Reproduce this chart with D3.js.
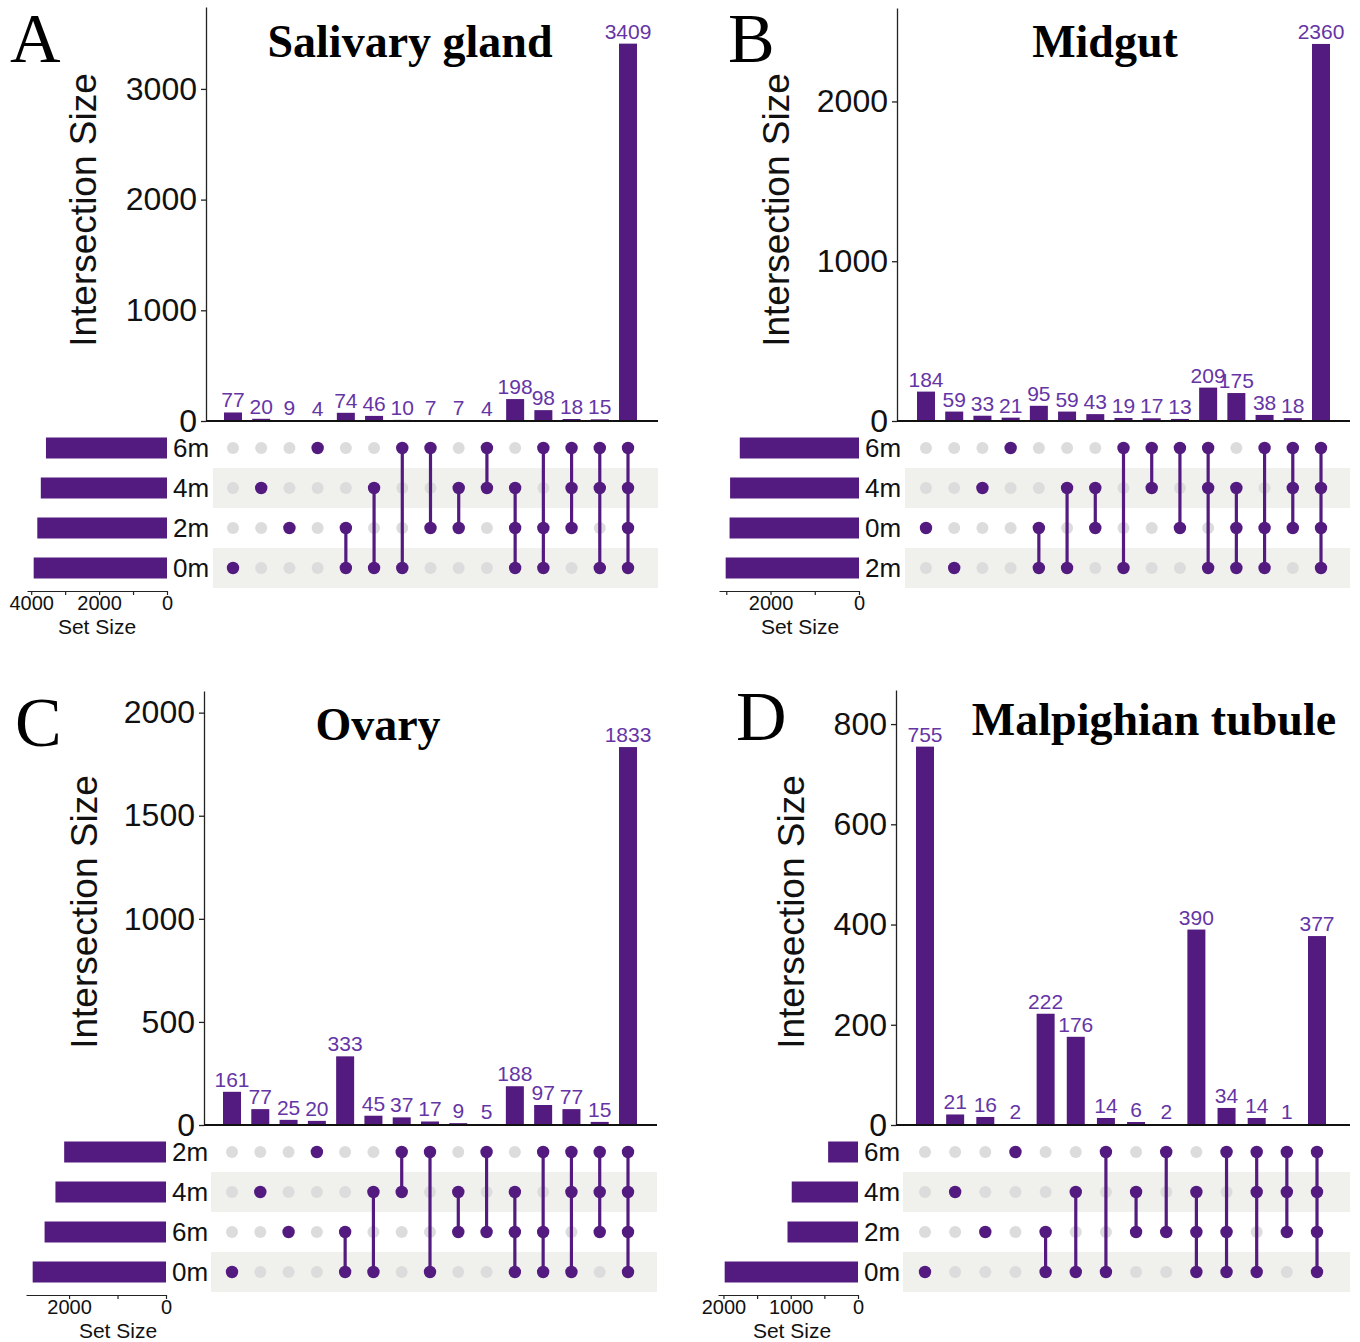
<html>
<script src='https://d3js.org/d3.v7.min.js'></script>
<style>
body {margin:0; background:white;}
text {font-family: 'Liberation Sans', Arial, sans-serif;}
.serif {font-family: 'Liberation Serif', 'Times New Roman', serif;}
</style>
<body onload='init()'>
<svg width=1360 height=1342></svg>
<script>
// A - Salivary gland
var setsA = ['6m','4m','2m','0m'];
var setSizeA = [3565, 3717, 3820, 3927];
var countsA = [77,20,9,4,74,46,10,7,7,4,198,98,18,15,3409];
var combosA = [['0m'],['4m'],['2m'],['6m'],['2m','0m'],['4m','0m'],['6m','0m'],['6m','2m'],['4m','2m'],['6m','4m'],
  ['4m','2m','0m'],['6m','2m','0m'],['6m','4m','2m'],['6m','4m','0m'],['6m','4m','2m','0m']];
var yTicksA = [0,1000,2000,3000];
var setTicksA = [0,1000,2000,3000,4000];
var setLabelsA = [0,2000,4000];

// B - Midgut
var setsB = ['6m','4m','0m','2m'];
var setSizeB = [2695, 2914, 2926, 3014];
var countsB = [184,59,33,21,95,59,43,19,17,13,209,175,38,18,2360];
var combosB = [['0m'],['2m'],['4m'],['6m'],['0m','2m'],['4m','2m'],['4m','0m'],['6m','2m'],['6m','4m'],['6m','0m'],
  ['6m','4m','2m'],['4m','0m','2m'],['6m','0m','2m'],['6m','4m','0m'],['6m','4m','0m','2m']];
var yTicksB = [0,1000,2000];
var setTicksB = [0,1000,2000,3000];
var setLabelsB = [0,2000];

// C - Ovary
var setsC = ['2m','4m','6m','0m'];
var setSizeC = [2101, 2281, 2505, 2751];
var countsC = [161,77,25,20,333,45,37,17,9,5,188,97,77,15,1833];
var combosC = [['0m'],['4m'],['6m'],['2m'],['6m','0m'],['4m','0m'],['2m','4m'],['2m','0m'],['4m','6m'],['2m','6m'],
  ['4m','6m','0m'],['2m','6m','0m'],['2m','4m','0m'],['2m','4m','6m'],['2m','4m','6m','0m']];
var yTicksC = [0,500,1000,1500,2000];
var setTicksC = [0,1000,2000];
var setLabelsC = [0,2000];

// D - Malpighian tubule
var setsD = ['6m','4m','2m','0m'];
var setSizeD = [444, 985, 1048, 1982];
var countsD = [755,21,16,2,222,176,14,6,2,390,34,14,1,377];
var combosD = [['0m'],['4m'],['2m'],['6m'],['2m','0m'],['4m','0m'],['6m','0m'],['4m','2m'],['6m','2m'],
  ['4m','2m','0m'],['6m','2m','0m'],['6m','4m','0m'],['6m','4m','2m'],['6m','4m','2m','0m']];
var yTicksD = [0,200,400,600,800];
var setTicksD = [0,500,1000,1500,2000];
var setLabelsD = [0,1000,2000];

var purple = '#531a7f';
var labelPurple = '#6535a6';

function drawPanel(p, L) {
  var svg = d3.select('svg');
  var g = svg.append('g');
  var y = d3.scaleLinear().domain([0, L.yMax]).range([L.base, L.top]);
  var x = d3.scalePoint().domain(d3.range(p.counts.length)).range([L.c0, L.c1]);
  var rowY = d3.scalePoint().domain(p.sets).range([L.base + 27, L.base + 147]);
  var sx = d3.scaleLinear().domain([0, d3.max(p.setSize) * 1.05]).range([L.setR, L.setR - 140]);

  // shaded rows of the matrix
  g.selectAll('rect.band').data(p.sets.filter(function(s, i) {return i % 2 == 1;}))
    .enter().append('rect')
    .attr('x', L.bandL).attr('width', L.bandR - L.bandL)
    .attr('y', function(d) {return rowY(d) - 20;}).attr('height', 40)
    .attr('fill', '#f0f0ed');

  // intersection bars
  g.selectAll('rect.bar').data(p.counts).enter().append('rect')
    .attr('x', function(d, i) {return x(i) - 9;})
    .attr('width', 18)
    .attr('y', function(d) {return y(d);})
    .attr('height', function(d) {return L.base - y(d);})
    .attr('fill', purple);

  g.selectAll('text.val').data(p.counts).enter().append('text')
    .attr('x', function(d, i) {return x(i);})
    .attr('y', function(d) {return y(d) - 5;})
    .attr('text-anchor', 'middle')
    .attr('font-size', 21)
    .attr('fill', labelPurple)
    .text(function(d) {return d;});

  // y axis
  var ax = g.append('g')
    .attr('transform', 'translate(' + L.x0 + ',0)')
    .call(d3.axisLeft(y).tickValues(p.yTicks).tickSize(5).tickPadding(4).tickSizeOuter(0).tickFormat(d3.format('d')));
  ax.attr('font-family', null).attr('font-size', null);
  ax.selectAll('text').attr('font-size', 32).attr('fill', '#111');
  ax.selectAll('path,line').attr('stroke', '#222').attr('stroke-width', 1.3);

  g.append('line')
    .attr('x1', L.x0).attr('x2', L.bandR)
    .attr('y1', L.base).attr('y2', L.base)
    .attr('stroke', '#111').attr('stroke-width', 2);

  g.append('text')
    .attr('transform', 'translate(' + L.ylab[0] + ',' + L.ylab[1] + ') rotate(-90)')
    .attr('text-anchor', 'middle')
    .attr('font-size', 37)
    .attr('fill', '#111')
    .text('Intersection Size');

  // matrix: grey dots first, then the lines, then the filled dots
  p.counts.forEach(function(c, i) {
    p.sets.forEach(function(s) {
      g.append('circle')
        .attr('cx', x(i)).attr('cy', rowY(s)).attr('r', 6)
        .attr('fill', '#dcdcdc');
    });
  });
  p.counts.forEach(function(c, i) {
    var on = p.combos[i];
    var ys = on.map(function(s) {return rowY(s);});
    if (ys.length > 1) {
      g.append('line')
        .attr('x1', x(i)).attr('x2', x(i))
        .attr('y1', d3.min(ys)).attr('y2', d3.max(ys))
        .attr('stroke', purple).attr('stroke-width', 3.2);
    }
    on.forEach(function(s) {
      g.append('circle')
        .attr('cx', x(i)).attr('cy', rowY(s)).attr('r', 6.2)
        .attr('fill', purple);
    });
  });

  // set size bars
  g.selectAll('rect.set').data(p.setSize).enter().append('rect')
    .attr('x', function(d) {return sx(d);})
    .attr('width', function(d) {return L.setR - sx(d);})
    .attr('y', function(d, i) {return rowY(p.sets[i]) - 10.5;})
    .attr('height', 21)
    .attr('fill', purple);

  g.selectAll('text.set').data(p.sets).enter().append('text')
    .attr('x', L.setR + 6)
    .attr('y', function(d) {return rowY(d);})
    .attr('dy', '0.36em')
    .attr('font-size', 26)
    .attr('fill', '#111')
    .text(function(d) {return d;});

  var sax = g.append('g')
    .attr('transform', 'translate(0,' + (L.base + 170) + ')')
    .call(d3.axisBottom(sx).tickValues(p.setTicks).tickSize(4).tickPadding(1).tickSizeOuter(0)
      .tickFormat(function(d) {return p.setLabels.indexOf(d) >= 0 ? d : '';}));
  sax.attr('font-family', null).attr('font-size', null);
  sax.selectAll('text').attr('font-size', 20).attr('fill', '#111');
  sax.selectAll('path,line').attr('stroke', '#222').attr('stroke-width', 1.2);

  g.append('text')
    .attr('x', L.setTitle).attr('y', L.base + 213)
    .attr('text-anchor', 'middle')
    .attr('font-size', 21)
    .attr('fill', '#111')
    .text('Set Size');

  // panel letter and title
  g.append('text').attr('class', 'serif')
    .attr('x', L.letter[0]).attr('y', L.letter[1])
    .attr('font-size', 70)
    .text(p.letter);
  g.append('text').attr('class', 'serif')
    .attr('x', L.title[0]).attr('y', L.title[1])
    .attr('text-anchor', 'middle')
    .attr('font-size', 46).attr('font-weight', 'bold')
    .text(p.title);
}

function init() {
  drawPanel({letter: 'A', title: 'Salivary gland', sets: setsA, setSize: setSizeA, counts: countsA, combos: combosA,
      yTicks: yTicksA, setTicks: setTicksA, setLabels: setLabelsA},
    {x0: 206, top: 7, base: 421, c0: 233, c1: 628, bandL: 213, bandR: 658, setR: 167, yMax: 3740,
      letter: [10, 62], title: [410, 57], ylab: [96, 210], setTitle: 97});
  drawPanel({letter: 'B', title: 'Midgut', sets: setsB, setSize: setSizeB, counts: countsB, combos: combosB,
      yTicks: yTicksB, setTicks: setTicksB, setLabels: setLabelsB},
    {x0: 897, top: 8, base: 421, c0: 926, c1: 1321, bandL: 905, bandR: 1350, setR: 859, yMax: 2585,
      letter: [728, 62], title: [1105, 57], ylab: [789, 210], setTitle: 800});
  drawPanel({letter: 'C', title: 'Ovary', sets: setsC, setSize: setSizeC, counts: countsC, combos: combosC,
      yTicks: yTicksC, setTicks: setTicksC, setLabels: setLabelsC},
    {x0: 204, top: 691, base: 1125, c0: 232, c1: 628, bandL: 211, bandR: 657, setR: 166, yMax: 2105,
      letter: [15, 746], title: [378, 740], ylab: [97, 912], setTitle: 118});
  drawPanel({letter: 'D', title: 'Malpighian tubule', sets: setsD, setSize: setSizeD, counts: countsD, combos: combosD,
      yTicks: yTicksD, setTicks: setTicksD, setLabels: setLabelsD},
    {x0: 896, top: 690, base: 1125, c0: 925, c1: 1317, bandL: 903, bandR: 1350, setR: 858, yMax: 868,
      letter: [736, 740], title: [1154, 735], ylab: [804, 912], setTitle: 792});
}
</script>
</body>
</html>
